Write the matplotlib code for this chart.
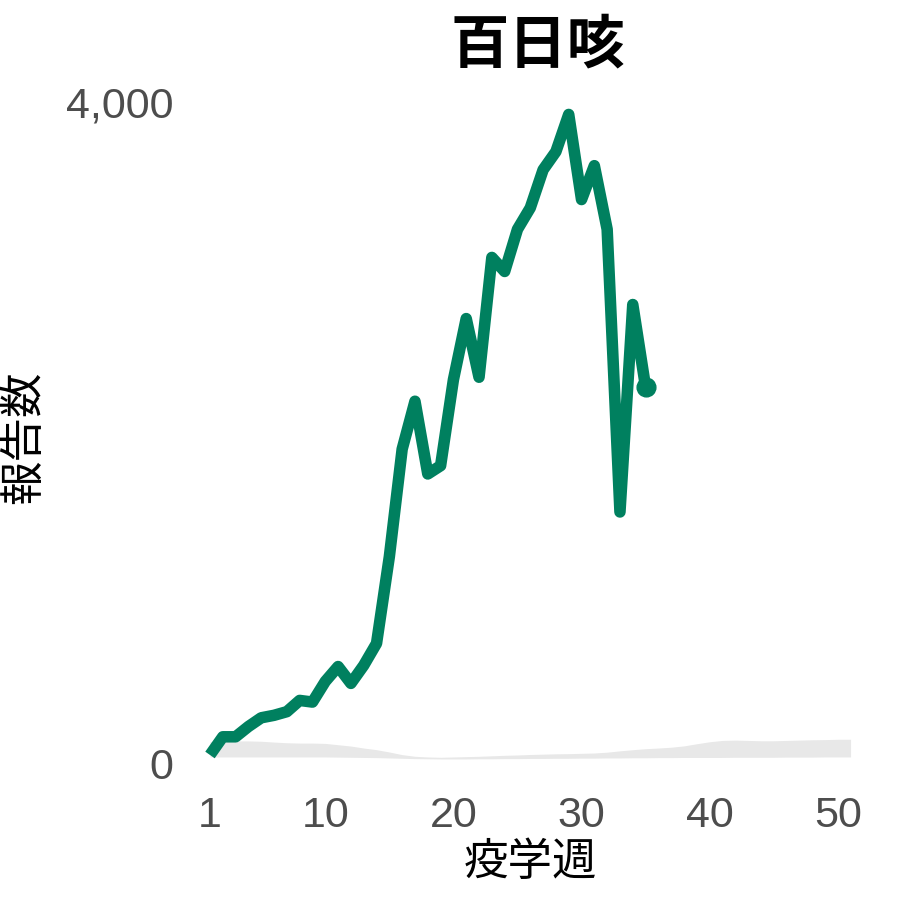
import numpy as np
import matplotlib
matplotlib.use('Agg')
import matplotlib.pyplot as plt

plt.rcParams['font.family'] = ['Noto Sans CJK JP', 'DejaVu Sans']

# data
weeks = list(range(1, 36))
reports = [50, 160, 160, 222, 275, 290, 312, 380, 370, 495,
           585, 483, 592, 725, 1250, 1900, 2190, 1750, 1800, 2320,
           2690, 2335, 3060, 2975, 3230, 3360, 3590, 3700, 3925, 3410,
           3615, 3230, 1520, 2775, 2275]

band_weeks = list(range(1, 52))
band_upper = [130, 135, 135, 135, 133, 128, 124, 122, 122, 120,
              112, 104, 92, 82, 68, 52, 42, 38, 36, 38,
              40, 42, 45, 48, 50, 53, 55, 57, 58, 60,
              62, 67, 75, 82, 88, 92, 97, 105, 118, 130,
              138, 140, 138, 136, 136, 138, 140, 142, 143, 145,
              145]
band_lower = [38, 38, 38, 38, 38, 38, 38, 38, 38, 38,
              37, 36, 35, 34, 32, 30, 28, 27, 26, 26,
              26, 27, 27, 28, 28, 29, 29, 30, 30, 31,
              31, 32, 32, 33, 33, 34, 34, 35, 35, 35,
              35, 36, 36, 36, 36, 37, 37, 37, 38, 38,
              38]

xticks = [1, 10, 20, 30, 40, 50]
yticks = [0, 4000]
ytick_labels = ['0', '4,000']

GREEN = '#00805f'
BAND = '#e8e8e8'
TICK_COLOR = '#4d4d4d'

fig = plt.figure(figsize=(9, 9), dpi=100)
ax = fig.add_axes([0.2262, 0.1244, 0.726, 0.7806])

ax.fill_between(band_weeks, band_lower, band_upper, color=BAND, linewidth=0)
ax.plot(weeks, reports, color=GREEN, linewidth=8.3,
        solid_joinstyle='round', solid_capstyle='butt')
ax.plot(weeks[-1], reports[-1], 'o', color=GREEN, markersize=13.5)

ax.set_xlim(0.5, 51.5)
ax.set_ylim(-150, 4100)
ax.set_xticks(xticks)
ax.set_yticks(yticks)
ax.set_yticklabels(ytick_labels)
ax.tick_params(axis='both', length=0, labelsize=31, labelcolor=TICK_COLOR)
ax.tick_params(axis='x', pad=6)
ax.tick_params(axis='y', pad=22)
for lab in ax.get_xticklabels() + ax.get_yticklabels():
    lab.set_family(['Liberation Sans', 'DejaVu Sans'])

for s in ax.spines.values():
    s.set_visible(False)

ax.set_xlabel('疫学週', fontsize=32, color='black', labelpad=2)
ax.set_ylabel('報告数', fontsize=32, color='black', labelpad=14)
fig.text(0.598, 0.949, '百日咳', fontsize=42, fontweight='bold',
         ha='center', va='center')

fig.savefig('out.png', dpi=100)
